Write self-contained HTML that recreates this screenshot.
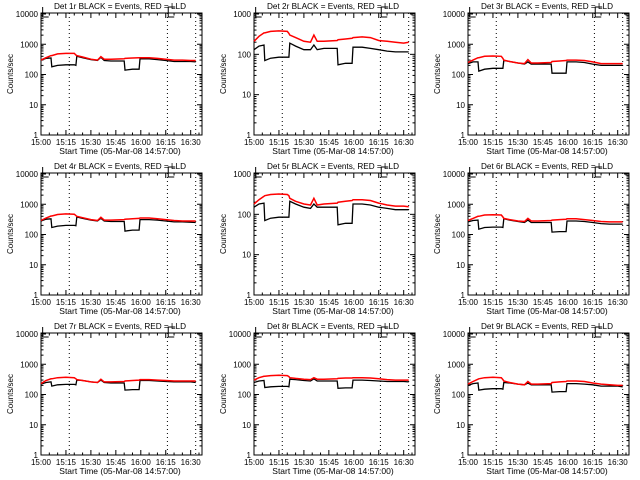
<!DOCTYPE html>
<html><head><meta charset="utf-8"><style>
html,body{margin:0;padding:0;background:#fff;}
svg{display:block;font-family:"Liberation Sans",sans-serif;}
</style></head><body>
<svg id="c" width="640" height="480" xmlns="http://www.w3.org/2000/svg"></svg>
<script>
const times=[0,3,6,6.5,10,15,20,21,21.5,25,30,34,36,38,42,50,50.5,55,59,59.5,65,70,75,80,85,90,93];
const xTickLabels=["15:00","15:15","15:30","15:45","16:00","16:15","16:30"];
const xTickMins=[0,15,30,45,60,75,90];
const dottedMins=[17,76,93];
const detNames=["1r","2r","3r","4r","5r","6r","7r","8r","9r"];
const yTopDecade=[4,3,4,4,3,4,4,4,4];
const black1=[300,340,350,180,200,210,210,200,400,360,310,290,370,290,280,280,140,150,150,330,330,310,290,270,270,270,260];
const red1=[300,360,420,420,480,500,500,440,420,380,320,300,390,320,320,330,340,350,360,360,360,340,320,300,300,290,290];
const black2=[130,160,170,70,80,85,85,85,190,160,130,130,170,130,140,140,55,60,60,150,150,140,130,120,115,115,115];
const red2=[210,280,340,340,370,380,370,330,300,260,210,200,300,210,210,220,230,240,250,260,270,260,220,210,200,190,200];
const black3=[230,260,260,130,150,160,160,160,290,270,240,220,260,220,220,220,110,110,110,260,260,250,220,200,200,200,200];
const red3=[250,300,360,360,400,410,400,340,300,270,240,230,310,240,240,250,270,280,290,300,300,290,260,230,230,230,230];
const black4=[280,320,330,170,190,200,200,195,380,340,300,280,340,280,270,270,130,140,140,310,310,300,280,260,260,255,250];
const red4=[290,350,410,410,460,480,470,420,400,360,310,290,370,300,300,310,320,330,340,350,350,330,310,290,280,280,280];
const black5=[150,180,190,70,80,85,85,85,210,180,150,140,180,150,150,150,55,60,60,180,180,170,150,140,130,130,130];
const red5=[180,230,280,290,310,320,310,290,250,210,180,170,250,170,180,190,200,210,220,230,230,220,190,170,160,160,155];
const black6=[260,290,300,150,170,175,175,170,330,300,270,250,300,250,250,250,120,125,125,280,280,270,250,230,220,220,220];
const red6=[290,340,400,400,440,450,440,380,340,310,280,270,340,280,280,290,300,310,320,330,330,310,290,270,260,260,260];
const black7=[220,250,260,190,210,215,215,210,300,290,260,250,300,250,240,240,140,145,145,290,290,280,270,260,260,260,250];
const red7=[230,290,330,330,360,370,360,330,310,290,260,250,320,260,260,270,280,290,300,310,310,300,290,280,280,280,280];
const black8=[250,280,290,170,180,185,185,180,320,310,290,280,330,280,280,280,160,165,165,300,300,290,280,270,270,270,260];
const red8=[300,360,400,400,420,430,420,390,360,340,320,310,360,320,320,330,340,350,350,360,360,350,330,310,300,300,300];
const black9=[200,230,240,140,150,155,155,150,250,240,220,210,240,210,210,210,120,125,125,230,230,220,210,190,190,190,180];
const red9=[220,270,320,330,360,370,360,310,280,250,220,210,270,220,220,230,250,260,270,280,280,270,240,220,210,200,200];
const blacks=[black1,black2,black3,black4,black5,black6,black7,black8,black9];
const reds=[red1,red2,red3,red4,red5,red6,red7,red8,red9];

const NS="http://www.w3.org/2000/svg";
const svg=document.getElementById('c');
function mk(tag,attrs,parent){const e=document.createElementNS(NS,tag);for(const k in attrs)e.setAttribute(k,attrs[k]);parent.appendChild(e);return e;}

for(let p=0;p<9;p++){
  const ox=[0,213,427][p%3], oy=[0,160,320][Math.floor(p/3)];
  const L=ox+41,R=ox+202,T=oy+13,B=oy+135;
  const g=mk('g',{},svg);
  
  
  const top=yTopDecade[p];
  const xs=m=>L+m*(R-L)/96.8;
  const ys=v=>B-Math.log10(v)/top*(B-T-1);
  const fr=mk('rect',{x:L,y:T,width:R-L,height:B-T,fill:'none',stroke:'#000','stroke-width':1},g);
  
  
  const t=mk('text',{x:ox+120,y:oy+9,'font-size':8.2,'text-anchor':'middle'},g);
  t.textContent='Det '+detNames[p]+' BLACK = Events, RED = LLD';
  
  
  for(let d=0;d<=top;d++){
    const y=ys(Math.pow(10,d));
    mk('line',{x1:L,x2:L+5,y1:y,y2:y,stroke:'#000'},g);
    mk('line',{x1:R-5,x2:R,y1:y,y2:y,stroke:'#000'},g);
    const tl=mk('text',{x:L-3,y:y+3,'font-size':8,'text-anchor':'end'},g);
    tl.textContent=String(Math.pow(10,d));
    
    
    if(d<top){for(let k=2;k<10;k++){const yy=ys(k*Math.pow(10,d));
      mk('line',{x1:L,x2:L+2.5,y1:yy,y2:yy,stroke:'#000'},g);
      mk('line',{x1:R-2.5,x2:R,y1:yy,y2:yy,stroke:'#000'},g);}}
  }
  for(let m=0;m<=95;m+=5){const x=xs(m);const major=m%15===0;
    mk('line',{x1:x,x2:x,y1:B,y2:B-(major?5:2.5),stroke:'#000'},g);
    mk('line',{x1:x,x2:x,y1:T,y2:T+(major?5:2.5),stroke:'#000'},g);}
  xTickMins.forEach((m,i)=>{const tl=mk('text',{x:xs(m),y:B+10,'font-size':8,'text-anchor':'middle'},g);
    tl.textContent=xTickLabels[i];
    
    });
  const xt=mk('text',{x:ox+120,y:B+19,'font-size':8.5,'text-anchor':'middle'},g);
  xt.textContent='Start Time (05-Mar-08 14:57:00)';
  
  
  const yt=mk('text',{x:0,y:0,'font-size':8,'text-anchor':'middle',transform:`translate(${ox+13},${(T+B)/2}) rotate(-90)`},g);
  yt.textContent='Counts/sec';
  
  
  dottedMins.forEach(m=>{const l=mk('line',{x1:xs(m),x2:xs(m),y1:T,y2:B,stroke:'#000','stroke-dasharray':'1,3'},g);
    
    });
  {const x=xs(1);mk('path',{d:`M${x} ${T-6}V${T+4}H${x+6}`,fill:'none',stroke:'#000'},g);}
  {const x=xs(76.5);mk('path',{d:`M${x+7} ${T-6}H${x}V${T+4}H${x+6}`,fill:'none',stroke:'#000'},g);}
  function path(vals){return vals.map((v,i)=>(i?'L':'M')+xs(times[i]).toFixed(1)+' '+ys(v).toFixed(1)).join(' ');}
  const bl=mk('path',{d:path(blacks[p]),fill:'none',stroke:'#000','stroke-width':1.3},g);
  
  
  const rl=mk('path',{d:path(reds[p]),fill:'none',stroke:'#f00','stroke-width':1.5},g);
  
  
}
</script>
</body></html>
